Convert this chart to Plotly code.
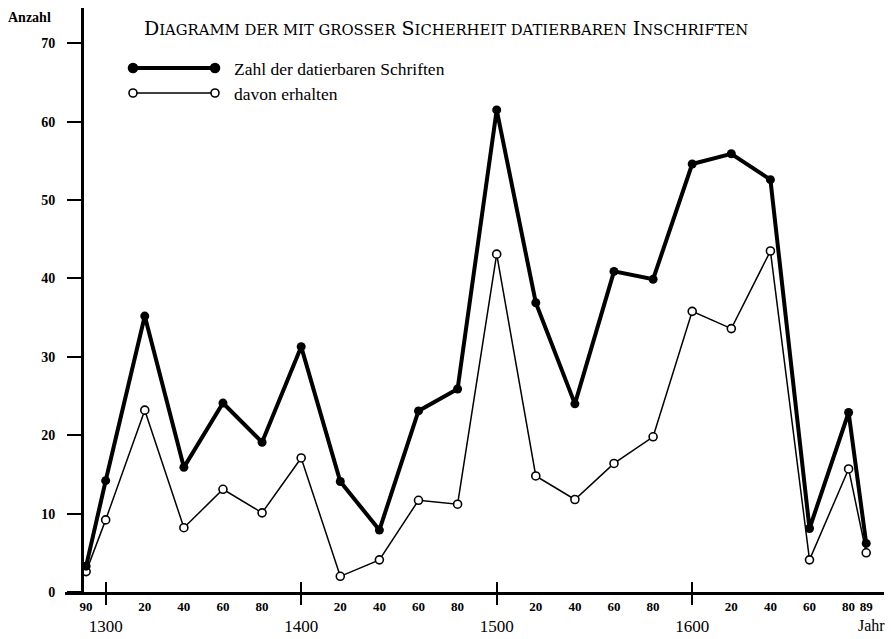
import plotly.graph_objects as go

years = [1290, 1300, 1320, 1340, 1360, 1380, 1400, 1420, 1440, 1460, 1480,
         1500, 1520, 1540, 1560, 1580, 1600, 1620, 1640, 1660, 1680, 1689]
total = [3.3, 14.2, 35.2, 15.9, 24.1, 19.1, 31.3, 14.1, 7.9, 23.1, 25.9,
         61.5, 36.9, 24.0, 40.9, 39.9, 54.6, 55.9, 52.6, 8.1, 22.9, 6.2]
preserved = [2.6, 9.2, 23.2, 8.2, 13.1, 10.1, 17.1, 2.0, 4.1, 11.7, 11.2,
             43.1, 14.8, 11.8, 16.4, 19.8, 35.8, 33.6, 43.5, 4.1, 15.7, 5.0]

century_vals = [1300, 1400, 1500, 1600]
century_text = ["1300", "1400", "1500", "1600"]
minor_vals = [1290, 1320, 1340, 1360, 1380, 1420, 1440, 1460, 1480,
              1520, 1540, 1560, 1580, 1620, 1640, 1660, 1680, 1689]
minor_text = ["90", "20", "40", "60", "80", "20", "40", "60", "80",
              "20", "40", "60", "80", "20", "40", "60", "80", "89"]
y_ticks = [0, 10, 20, 30, 40, 50, 60, 70]

name_total = "Zahl der datierbaren Schriften"
name_pres = "davon erhalten"

SERIF = "Liberation Serif"
XR = [1279.2, 1698.1]
YR = [0, 74.5]

fig = go.Figure()
fig.add_trace(go.Scatter(x=years, y=preserved, mode="lines+markers", name=name_pres,
                         line=dict(color="black", width=1.5),
                         marker=dict(symbol="circle", size=8, color="white",
                                     line=dict(color="black", width=1.6)),
                         showlegend=False, cliponaxis=False))
fig.add_trace(go.Scatter(x=years, y=total, mode="lines+markers", name=name_total,
                         line=dict(color="black", width=4),
                         marker=dict(symbol="circle", size=9, color="black"),
                         showlegend=False, cliponaxis=False))
fig.add_trace(go.Scatter(x=[], y=[], xaxis="x2", showlegend=False))
fig.add_trace(go.Scatter(x=[], y=[], xaxis="x3", showlegend=False))

fig.update_layout(
    width=891, height=639,
    margin=dict(l=65, r=7, t=8, b=47, autoexpand=False),
    paper_bgcolor="white", plot_bgcolor="white",
    font=dict(family=SERIF, color="black"),
    xaxis=dict(range=XR, showgrid=False, zeroline=False, showline=True,
               linewidth=3, linecolor="black", automargin=False,
               tickmode="array", tickvals=century_vals, ticktext=century_text,
               ticks="outside", ticklen=10, tickwidth=2, tickcolor="black",
               tickfont=dict(family=SERIF, size=17), ticklabelstandoff=7),
    xaxis2=dict(range=XR, overlaying="x", anchor="y", side="bottom",
                showgrid=False, zeroline=False, showline=False, automargin=False,
                tickmode="array", tickvals=century_vals,
                ticks="inside", ticklen=10, tickwidth=2, tickcolor="black",
                showticklabels=False),
    xaxis3=dict(range=XR, overlaying="x", anchor="y", side="bottom",
                showgrid=False, zeroline=False, showline=False, automargin=False,
                tickmode="array", tickvals=minor_vals, ticktext=minor_text,
                ticks="", tickfont=dict(family=SERIF, size=13, weight="bold"),
                ticklabelstandoff=5),
    yaxis=dict(range=YR, anchor="free", position=(82 - 65) / 819,
               showgrid=False, zeroline=False, showline=True, automargin=False,
               linewidth=3, linecolor="black",
               tickmode="array", tickvals=y_ticks,
               ticks="outside", ticklen=14, tickwidth=2, tickcolor="black",
               tickfont=dict(family=SERIF, size=14, weight="bold"),
               ticklabelstandoff=9),
)

# y-axis caption, x-axis caption, title
fig.add_annotation(text="<b>Anzahl</b>", xref="paper", yref="paper",
                   x=(6 - 65) / 819, y=(592 - 18) / 584, xanchor="left", yanchor="middle",
                   showarrow=False, font=dict(family=SERIF, size=14))
fig.add_annotation(text="Jahr", xref="paper", yref="paper",
                   x=(887 - 65) / 819, y=-(626 - 592) / 584, xanchor="right", yanchor="middle",
                   showarrow=False, font=dict(family=SERIF, size=16))
sc = "<span style='font-size:14.8px'>{}</span>"
title = ("D" + sc.format("IAGRAMM DER MIT GROSSER") + " S" +
         sc.format("ICHERHEIT DATIERBAREN") + " I" + sc.format("NSCHRIFTEN"))
fig.add_annotation(text=title, xref="paper", yref="paper",
                   x=(446 - 65) / 819, y=(592 - 28) / 584, xanchor="center", yanchor="middle",
                   showarrow=False, font=dict(family="DejaVu Serif", size=19))

# custom legend
def px_x(p):
    return (p - 65) / 819

def px_y(p):
    return (592 - p) / 584

leg = [(68, 4, 9, "black", name_total), (93, 1.5, 8, "white", name_pres)]
for ypix, lw, ms, fill, label in leg:
    fig.add_shape(type="line", xref="paper", yref="paper",
                  x0=px_x(133), x1=px_x(215), y0=px_y(ypix), y1=px_y(ypix),
                  line=dict(color="black", width=lw))
    for xp in (133, 215):
        fig.add_shape(type="circle", xref="paper", yref="paper",
                      xsizemode="pixel", ysizemode="pixel",
                      xanchor=px_x(xp), yanchor=px_y(ypix),
                      x0=-ms / 2, x1=ms / 2, y0=-ms / 2, y1=ms / 2,
                      fillcolor=fill, line=dict(color="black", width=1.6))
    fig.add_annotation(text=label, xref="paper", yref="paper",
                       x=px_x(232), y=px_y(ypix + 1), xanchor="left", yanchor="middle",
                       showarrow=False, font=dict(family=SERIF, size=17.5))

fig.write_html("out.html", config={"displayModeBar": False},
               post_script="document.body.style.margin='0';")
